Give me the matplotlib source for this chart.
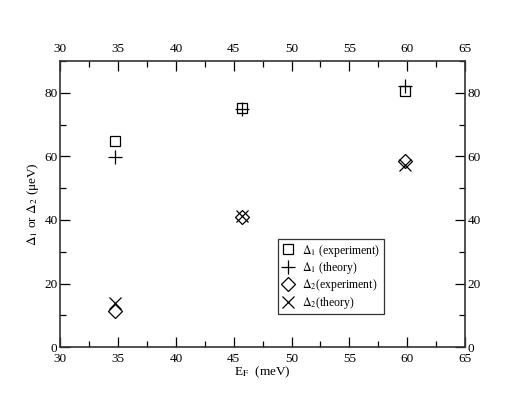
import numpy as np
import matplotlib
matplotlib.use('Agg')
import matplotlib.pyplot as plt
from matplotlib.ticker import MultipleLocator

plt.rcParams['font.family'] = ['Liberation Serif', 'DejaVu Serif']
plt.rcParams['mathtext.fontset'] = 'stix'

# data
ef = [34.7, 45.7, 59.8]
d1_exp = [64.7, 75.2, 80.7]
d1_th = [59.8, 75.0, 82.0]
d2_exp = [11.3, 41.0, 58.6]
d2_th = [14.0, 41.2, 57.2]

fig = plt.figure(figsize=(5.29, 4.09), dpi=100)
ax = fig.add_axes([0.114, 0.151, 0.765, 0.700])

ax.plot(ef, d1_exp, ls='none', marker='s', ms=7, mfc='none', mec='black', mew=0.9,
        label=r'$\Delta_1$ (experiment)')
ax.plot(ef, d1_th, ls='none', marker='+', ms=10, mec='black', mew=0.9,
        label=r'$\Delta_1$ (theory)')
ax.plot(ef, d2_exp, ls='none', marker='D', ms=7.5, mfc='none', mec='black', mew=0.9,
        label=r'$\Delta_2$(experiment)')
ax.plot(ef, d2_th, ls='none', marker='x', ms=8, mec='black', mew=0.9,
        label=r'$\Delta_2$(theory)')

ax.set_xlim(30, 65)
ax.set_ylim(0, 90)
ax.xaxis.set_major_locator(MultipleLocator(5))
ax.xaxis.set_minor_locator(MultipleLocator(2.5))
ax.yaxis.set_major_locator(MultipleLocator(20))
ax.yaxis.set_minor_locator(MultipleLocator(10))
ax.tick_params(which='both', direction='in', top=True, right=True,
               labeltop=True, labelright=True, labelsize=9.5, pad=2)
ax.tick_params(axis='x', which='both', pad=4)
ax.tick_params(which='major', length=7, width=0.9)
ax.tick_params(which='minor', length=4, width=0.9)
for s in ax.spines.values():
    s.set_linewidth(1.2)
    s.set_color('#333333')

ax.set_xlabel(r'E$_{\rm F}$  (meV)', fontsize=9.5, labelpad=0)
ax.set_ylabel(r'$\Delta_1$ or $\Delta_2$ (μeV)', fontsize=9.5)
ax.yaxis.set_label_coords(-0.047, 0.5)

leg = ax.legend(loc='lower left', bbox_to_anchor=(0.537, 0.115), fontsize=8.5,
                frameon=True, fancybox=False, edgecolor='black',
                handlelength=1.2, handletextpad=0.6, borderpad=0.3,
                labelspacing=0.12, borderaxespad=0)
leg.get_frame().set_linewidth(0.9)

plt.savefig('out.png', dpi=100)
